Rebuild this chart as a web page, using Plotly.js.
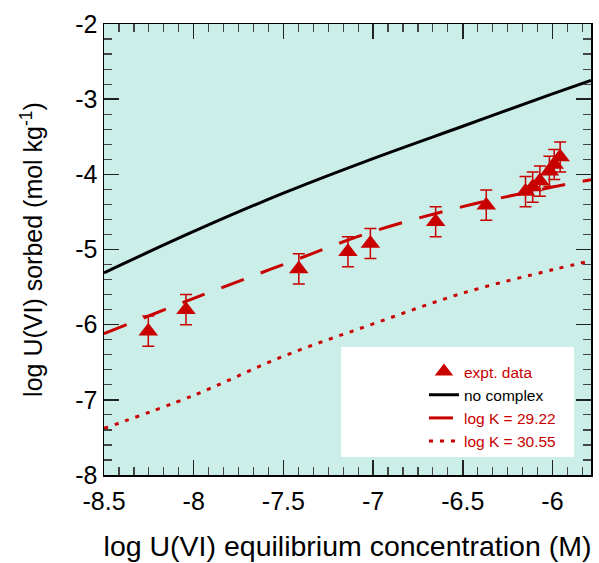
<!DOCTYPE html>
<html>
<head>
<meta charset="utf-8">
<script src="https://cdn.plot.ly/plotly-3.0.1.min.js"></script>
<style>html,body{margin:0;padding:0;background:#fff;}#chart{width:599px;height:563px;}</style>
</head>
<body>
<div id="chart"></div>
<script>
// experimental data
const exptX = [-8.253, -8.043, -7.414, -7.14, -7.015, -6.651, -6.369, -6.15, -6.11, -6.07, -6.017, -5.99, -5.957];
const exptY = [-6.086, -5.80, -5.258, -5.03, -4.92, -4.63, -4.41, -4.23, -4.17, -4.09, -3.96, -3.87, -3.77];
const exptErr = [0.2, 0.2, 0.2, 0.2, 0.2, 0.2, 0.2, 0.2, 0.2, 0.2, 0.2, 0.2, 0.2];

// model curves
const curveX = [-8.5, -8.0, -7.5, -7.0, -6.5, -6.0, -5.785];
const noComplexY = [-5.31, -4.76, -4.25, -3.79, -3.36, -2.93, -2.75];
const logK2922Y = [-6.12, -5.65, -5.20, -4.76, -4.43, -4.17, -4.07];
const logK3055Y = [-7.38, -6.94, -6.42, -5.99, -5.58, -5.27, -5.15];

// tick labels
const xTickVals = [-8.5, -8, -7.5, -7, -6.5, -6];
const xTickText = ["-8.5", "-8", "-7.5", "-7", "-6.5", "-6"];
const yTickVals = [-8, -7, -6, -5, -4, -3, -2];
const yTickText = ["-8", "-7", "-6", "-5", "-4", "-3", "-2"];

const RED = "#c80000";
const FONT = "Liberation Sans, Arial, sans-serif";

const traces = [
  {x: curveX, y: noComplexY, mode: "lines", line: {color: "#000", width: 3, shape: "spline"},
   name: "no complex", legendrank: 2},
  {x: curveX, y: logK2922Y, mode: "lines", line: {color: RED, width: 3, dash: "24px,18px", shape: "spline"},
   name: '<span style="color:' + RED + '">log K = 29.22</span>', legendrank: 3},
  {x: curveX, y: logK3055Y, mode: "lines", line: {color: RED, width: 3, dash: "4px,7px", shape: "spline"},
   name: '<span style="color:' + RED + '">log K = 30.55</span>', legendrank: 4},
  {x: exptX, y: exptY, mode: "markers",
   marker: {symbol: "triangle-up", size: 17, color: RED},
   error_y: {type: "data", array: exptErr, visible: true, color: RED, thickness: 1.5, width: 6},
   name: '<span style="color:' + RED + '">expt. data</span>', legendrank: 1}
];

const axisCommon = {
  showline: true, linecolor: "#000", linewidth: 1.5, mirror: "allticks",
  ticks: "inside", ticklen: 15, tickwidth: 1.5, tickcolor: "#222",
  showgrid: false, zeroline: false, tickmode: "array",
  tickfont: {family: FONT, size: 25, color: "#000"}
};

const layout = {
  width: 599, height: 563,
  margin: {l: 104, r: 8, t: 24, b: 88},
  paper_bgcolor: "#fff",
  plot_bgcolor: "rgb(204,238,233)",
  showlegend: true,
  legend: {
    x: 0.657, y: 0.266, xanchor: "left", yanchor: "top",
    bgcolor: "rgba(0,0,0,0)", borderwidth: 0,
    font: {family: FONT, size: 15.5, color: "#000"},
    tracegroupgap: 0
  },
  xaxis: Object.assign({}, axisCommon, {
    range: [-8.5, -5.785],
    tickvals: xTickVals, ticktext: xTickText,
    ticklabelstandoff: 3,
    minor: {tickmode: "linear", tick0: -8.5, dtick: 0.5 / 6, ticks: "inside", ticklen: 8, tickwidth: 1.2, tickcolor: "#444"},
    title: {text: "log U(VI) equilibrium concentration (M)", font: {family: FONT, size: 28.5, color: "#000"}, standoff: 22}
  }),
  yaxis: Object.assign({}, axisCommon, {
    range: [-8, -2],
    tickvals: yTickVals, ticktext: yTickText,
    minor: {tickmode: "linear", tick0: -8, dtick: 0.2, ticks: "inside", ticklen: 8, tickwidth: 1.2, tickcolor: "#444"},
    title: {text: "log U(VI) sorbed (mol kg<sup>-1</sup>)", font: {family: FONT, size: 25, color: "#000"}, standoff: 25}
  }),
  shapes: [
    {type: "rect", xref: "paper", yref: "paper", x0: 0.487, x1: 0.965, y0: 0.04, y1: 0.284,
     fillcolor: "#fff", line: {width: 0}, layer: "above"}
  ]
};

Plotly.newPlot("chart", traces, layout, {displayModeBar: false, staticPlot: true});
</script>
</body>
</html>
